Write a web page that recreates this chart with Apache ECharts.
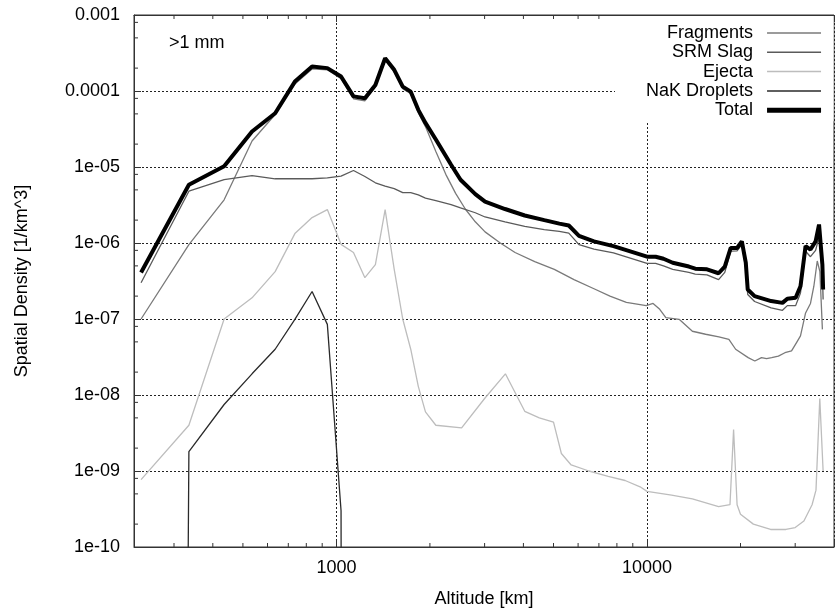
<!DOCTYPE html>
<html><head><meta charset="utf-8">
<script src="https://cdn.jsdelivr.net/npm/echarts@6/dist/echarts.min.js"></script>
<style>html,body{margin:0;padding:0;background:#fff}#c{width:837px;height:613px}</style>
</head><body><div id="c"></div>
<script>
// ---- data (altitude in km, spatial density in 1/km^3) ----
const seriesNames = ['Fragments', 'SRM Slag', 'Ejecta', 'NaK Droplets', 'Total'];

const fragAlt = [235,335,435,535,635,735,835,935,1035,1135,1235,1335,1435,1535,1635,1735,1835,1935,2090,2250,2420,2600,2800,3010,3370,3760,4350,5030,5820,6750,7600,8580,9940,10460,10990,11500,12690,14000,15440,17040,18350,19290,21170,22240,23370,24260,25200,26480,27800,29200,30300,31200,32400,33600,34450,35330,36030,36700];
const fragVal = [1e-7,9.5e-7,3.7e-6,2.2e-5,4.9e-5,1.24e-4,1.95e-4,1.9e-4,1.45e-4,7.9e-5,7.4e-5,1.13e-4,2.57e-4,1.78e-4,1.07e-4,9.2e-5,5.2e-5,3.4e-5,1.6e-5,8e-6,4.5e-6,2.8e-6,1.9e-6,1.4e-6,1e-6,7.5e-7,5.7e-7,4.5e-7,3.3e-7,2.5e-7,2e-7,1.65e-7,1.5e-7,1.6e-7,1.34e-7,1.04e-7,9.9e-8,6.9e-8,6.3e-8,5.8e-8,5.4e-8,4e-8,3.1e-8,2.8e-8,3.1e-8,3e-8,3.1e-8,3.25e-8,3.6e-8,3.8e-8,4.9e-8,6e-8,1.2e-7,1.6e-7,2.7e-7,5.8e-7,4.2e-7,7.3e-8];

const srmAlt = [235,335,435,535,635,735,835,935,1035,1135,1235,1335,1435,1535,1635,1735,1835,1935,2090,2340,2510,2800,3010,3490,4040,4670,5220,5600,6040,6750,7800,10000,10660,11300,12100,13640,14300,15600,17000,17800,18600,19500,20200,20800,21100,22200,25100,27300,28300,30100,31200,32400,33600,34900,35800,36700,36900];
const srmVal = [3e-7,4.8e-6,6.8e-6,7.7e-6,7e-6,7e-6,7e-6,7.2e-6,7.6e-6,9e-6,7.5e-6,6.2e-6,5.6e-6,5.2e-6,4.6e-6,4.6e-6,4.3e-6,3.9e-6,3.6e-6,3.2e-6,2.9e-6,2.5e-6,2.2e-6,1.9e-6,1.65e-6,1.5e-6,1.42e-6,1.35e-6,9.5e-7,8.3e-7,7.4e-7,5.4e-7,5.4e-7,5.0e-7,4.5e-7,4.1e-7,3.9e-7,3.8e-7,3.3e-7,4.1e-7,7.8e-7,7.9e-7,9.6e-7,4.7e-7,2.1e-7,1.7e-7,1.4e-7,1.3e-7,1.5e-7,1.5e-7,2.2e-7,7.8e-7,6.6e-7,8e-7,1.2e-6,4.2e-7,1.8e-7];

const ejAlt = [235,335,435,535,635,735,835,935,1035,1135,1235,1335,1435,1535,1635,1735,1835,1935,2090,2530,3000,3500,4040,4500,5000,5300,5700,6500,7500,8500,9500,10000,12000,14000,17000,18500,19000,19500,20000,22000,25000,28000,30000,32000,34000,35000,36000,36900];
const ejVal = [7.7e-10,4e-9,1e-7,1.9e-7,4.2e-7,1.33e-6,2.16e-6,2.75e-6,9.6e-7,7.5e-7,3.5e-7,5.2e-7,2.75e-6,4.5e-7,1e-7,4e-8,1.3e-8,6e-9,4e-9,3.7e-9,9e-9,1.9e-8,6.1e-9,5e-9,4.4e-9,1.7e-9,1.2e-9,1e-9,8.5e-10,7.5e-10,6.2e-10,5.4e-10,4.8e-10,4.3e-10,3.4e-10,3.6e-10,3.5e-9,3.6e-10,2.7e-10,2e-10,1.7e-10,1.7e-10,1.8e-10,2.2e-10,3.6e-10,5.6e-10,9e-9,1e-9];

// 1e-100 stands for "zero" (drops off the log axis)
const nakAlt = [235,335,435,535,635,735,835,935,1035,1135];
const nakVal = [1e-100,1.8e-9,7.5e-9,1.9e-8,4e-8,9.9e-8,2.3e-7,8.5e-8,3e-10,1e-100];

const totAlt = [235,335,435,535,635,735,835,935,1035,1135,1235,1335,1435,1535,1635,1735,1835,1935,2090,2340,2510,2800,3010,3490,4040,4670,5220,5600,6040,6750,7800,10000,10660,11300,12100,13640,14300,15600,17000,17800,18600,19500,20200,20800,21100,22200,25100,27300,28300,30100,31200,32400,33600,34900,35800,36700,36900];
const totVal = [4.1e-7,5.85e-6,1.02e-5,2.93e-5,5.1e-5,1.33e-4,2.1e-4,2e-4,1.55e-4,8.5e-5,8.05e-5,1.2e-4,2.7e-4,1.9e-4,1.14e-4,9.8e-5,5.65e-5,3.8e-5,2.3e-5,1.07e-5,6.8e-6,4.4e-6,3.5e-6,2.8e-6,2.3e-6,2e-6,1.8e-6,1.7e-6,1.24e-6,1.05e-6,9.1e-7,6.6e-7,6.6e-7,6.2e-7,5.5e-7,4.9e-7,4.6e-7,4.5e-7,4e-7,4.9e-7,8.6e-7,8.6e-7,1.05e-6,5.5e-7,2.44e-7,2e-7,1.72e-7,1.63e-7,1.85e-7,1.9e-7,2.7e-7,9.1e-7,8.2e-7,1.05e-6,1.75e-6,5.2e-7,2.44e-7];

// axis ticks / labels
const xTickLabels = {3: '1000', 4: '10000'};
const yTickLabels = {'-10':'1e-10','-9':'1e-09','-8':'1e-08','-7':'1e-07','-6':'1e-06','-5':'1e-05','-4':'0.0001','-3':'0.001'};
const xMinorTicks = [300,400,500,600,700,800,900,2000,3000,4000,5000,6000,7000,8000,9000,20000,30000];
const yMinorTicks = [2e-10,5e-10,8e-10,2e-9,5e-9,8e-9,2e-8,5e-8,8e-8,2e-7,5e-7,8e-7,2e-6,5e-6,8e-6,2e-5,5e-5,8e-5,2e-4,5e-4,8e-4];

const X_MIN = 223, X_MAX = 40000, Y_MIN = 1e-10, Y_MAX = 1e-3;
const FONT = '"Liberation Sans", Arial, Helvetica, sans-serif';
const AX = '#333';

function zip(a, b) { return a.map((x, i) => [x, b[i]]); }
function isDecade(v) { const l = Math.log10(v); return Math.abs(l - Math.round(l)) < 1e-6 ? Math.round(l) : null; }

const lineStyles = {
  'Fragments':    {color: '#7a7a7a', width: 1.3},
  'SRM Slag':     {color: '#5a5a5a', width: 1.3},
  'Ejecta':       {color: '#bdbdbd', width: 1.3},
  'NaK Droplets': {color: '#2a2a2a', width: 1.3},
  'Total':        {color: '#000000', width: 4}
};
const seriesData = {
  'Fragments': zip(fragAlt, fragVal),
  'SRM Slag': zip(srmAlt, srmVal),
  'Ejecta': zip(ejAlt, ejVal),
  'NaK Droplets': zip(nakAlt, nakVal),
  'Total': zip(totAlt, totVal)
};

const lineSeries = seriesNames.map((n, i) => ({
  name: n, type: 'line', data: seriesData[n], symbol: 'none', showSymbol: false,
  lineStyle: {color: lineStyles[n].color, width: lineStyles[n].width},
  itemStyle: {color: lineStyles[n].color},
  z: 2 + i, clip: true, silent: true
}));

const tickSeriesX = {
  type: 'custom', coordinateSystem: 'cartesian2d', silent: true, clip: false, z: 6,
  data: xMinorTicks.map(v => [v, Y_MIN]), encode: {x: 0, y: 1},
  renderItem: (params, api) => {
    const v = api.value(0);
    const b = api.coord([v, Y_MIN]), t = api.coord([v, Y_MAX]);
    return {type: 'group', children: [
      {type: 'line', shape: {x1: b[0], y1: b[1], x2: b[0], y2: b[1] - 4}, style: {stroke: AX, lineWidth: 1}},
      {type: 'line', shape: {x1: t[0], y1: t[1], x2: t[0], y2: t[1] + 4}, style: {stroke: AX, lineWidth: 1}}
    ]};
  }
};
const tickSeriesY = {
  type: 'custom', coordinateSystem: 'cartesian2d', silent: true, clip: false, z: 6,
  data: yMinorTicks.map(v => [X_MIN, v]), encode: {x: 0, y: 1},
  renderItem: (params, api) => {
    const v = api.value(1);
    const p = api.coord([X_MIN, v]);
    return {type: 'line', shape: {x1: p[0], y1: p[1], x2: p[0] + 4, y2: p[1]}, style: {stroke: AX, lineWidth: 1}};
  }
};

const chart = echarts.init(document.getElementById('c'), null, {renderer: 'canvas'});
chart.setOption({
  animation: false,
  backgroundColor: '#fff',
  title: {text: '>1 mm', left: 169, top: 34, padding: 0,
    textStyle: {fontSize: 18, fontWeight: 'normal', fontFamily: FONT, color: '#000'}},
  legend: {
    data: seriesNames.map(n => ({name: n, lineStyle: {width: n === 'Total' ? 5 : 1.5}})),
    orient: 'vertical', align: 'right', left: 615, top: 16,
    itemWidth: 54, itemHeight: 12, itemGap: 1.3, padding: [8, 10, 2, 31],
    backgroundColor: '#fff', selectedMode: false, z: 20,
    itemStyle: {opacity: 0, borderWidth: 0},
    textStyle: {fontSize: 18, fontFamily: FONT, color: '#000', padding: [0, 9, 0, 0]}
  },
  grid: {left: 134, top: 15, width: 709, bottom: 65, show: true, borderColor: AX, borderWidth: 1, backgroundColor: 'transparent'},
  xAxis: [{
    type: 'log', logBase: 10, min: X_MIN, max: X_MAX, position: 'bottom',
    name: 'Altitude [km]', nameLocation: 'middle', nameGap: 43,
    nameTextStyle: {fontSize: 18, fontFamily: FONT, color: '#000'},
    axisLine: {show: true, lineStyle: {color: AX}},
    axisTick: {show: true, inside: true, length: 7, lineStyle: {color: AX}},
    minorTick: {show: false},
    axisLabel: {fontSize: 18, fontFamily: FONT, color: '#000', margin: 12,
      formatter: v => { const e = isDecade(v); return e !== null && xTickLabels[e] ? xTickLabels[e] : ''; }},
    splitLine: {show: true, lineStyle: {color: '#222', type: [2, 2], width: 1}}
  }, {
    type: 'log', logBase: 10, min: X_MIN, max: X_MAX, position: 'top',
    axisLine: {show: true, lineStyle: {color: AX}},
    axisTick: {show: true, inside: true, length: 7, lineStyle: {color: AX}},
    axisLabel: {show: false}, splitLine: {show: false}
  }],
  yAxis: {
    type: 'log', logBase: 10, min: Y_MIN, max: Y_MAX,
    name: 'Spatial Density [1/km^3]', nameLocation: 'middle', nameGap: 103,
    nameTextStyle: {fontSize: 18, fontFamily: FONT, color: '#000'},
    axisLine: {show: true, lineStyle: {color: AX}},
    axisTick: {show: true, inside: true, length: 7, lineStyle: {color: AX}},
    axisLabel: {fontSize: 18, fontFamily: FONT, color: '#000', margin: 14,
      formatter: v => { const e = isDecade(v); return e !== null && yTickLabels[String(e)] ? yTickLabels[String(e)] : ''; }},
    splitLine: {show: true, lineStyle: {color: '#222', type: [2, 2], width: 1}}
  },
  series: [...lineSeries, tickSeriesX, tickSeriesY]
});
</script></body></html>
